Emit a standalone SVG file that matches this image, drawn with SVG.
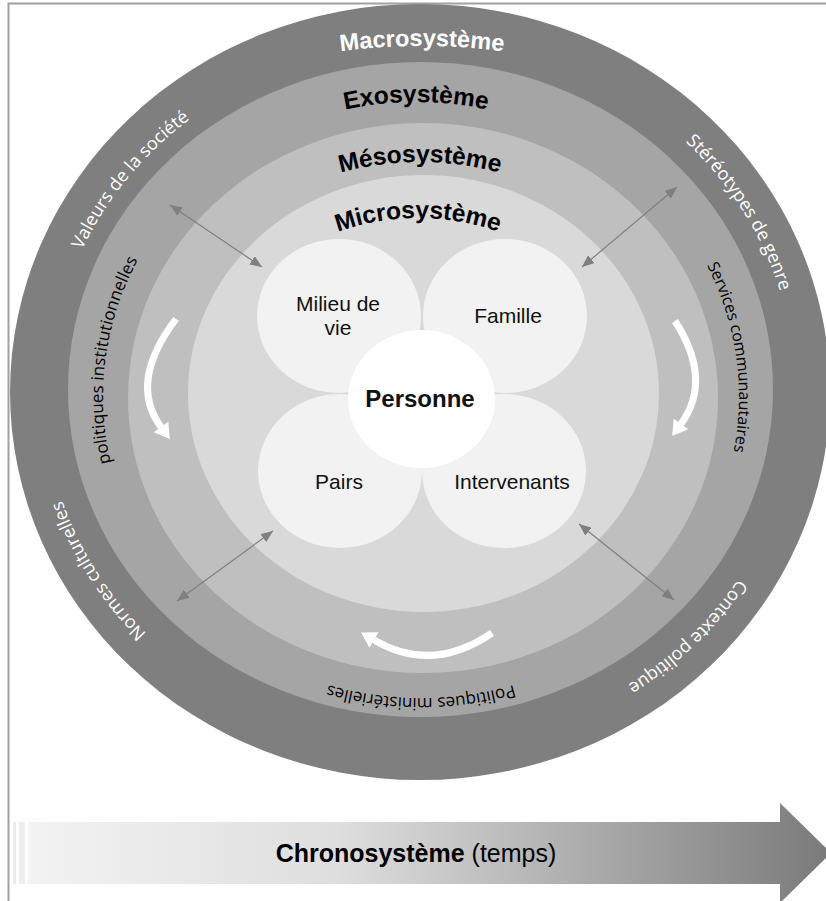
<svg xmlns="http://www.w3.org/2000/svg" width="826" height="901" viewBox="0 0 826 901">
<style>
.ring-label{font-family:"Liberation Sans",Arial,sans-serif;font-weight:bold;font-size:24.5px}
.side-w{font-family:"Open Sans","DejaVu Sans",sans-serif;font-size:18px;fill:#ffffff}
.side-b{font-family:"Open Sans","DejaVu Sans",sans-serif;font-size:17px;fill:#000000}
.node-t{font-family:"Liberation Sans",Arial,sans-serif;font-size:21px;fill:#111111;text-anchor:middle}
.conn{stroke:#7f7f7f;stroke-width:1.2;fill:none;marker-start:url(#ah);marker-end:url(#ah)}
.warrow{stroke:#ffffff;stroke-width:7;fill:none}
.whead{fill:#ffffff}
</style>
<defs>
<marker id="ah" viewBox="0 0 12 10" refX="12" refY="5" markerWidth="12" markerHeight="10" orient="auto-start-reverse" markerUnits="userSpaceOnUse"><path d="M0,0 L12,5 L0,10 Z" fill="#7f7f7f"/></marker>
<linearGradient id="chronoGrad" gradientUnits="userSpaceOnUse" x1="12" y1="0" x2="830" y2="0">
<stop offset="0" stop-color="#f4f4f4"/>
<stop offset="0.4" stop-color="#dedede"/>
<stop offset="1" stop-color="#7a7a7a"/>
</linearGradient>
<path id="pMacro" d="M302 58 A600 600 0 0 1 542 58"/>
<path id="pExo" d="M276 132.2 A340 340 0 0 1 556 132.2"/>
<path id="pMeso" d="M280 196.7 A300 300 0 0 1 560 196.7"/>
<path id="pMicro" d="M288 256.3 A240 240 0 0 1 548 256.3"/>
<path id="pValeurs" d="M53.6 439.3 A370 347 0 0 1 368.5 47.4"/>
<path id="pStereo" d="M517.3 50.5 A376 352.5 0 0 1 782.6 482.2"/>
<path id="pNormes" d="M322.7 731.5 A376 352.5 0 0 1 56.3 299.8"/>
<path id="pContexte" d="M796 382 A376 352.5 0 0 1 429.8 743.4"/>
<path id="pInstit" d="M208.2 620.7 A318 301 0 0 1 271.7 131.2"/>
<path id="pServices" d="M567.8 130 A318 301 0 0 1 635.8 618.9"/>
<path id="pMinist" d="M681.5 569.7 A318 301 0 0 1 160.5 569.7"/>
</defs>
<rect width="826" height="901" fill="#ffffff"/>
<path d="M8.5 901 V3.5 H826" fill="none" stroke="#a0a0a0" stroke-width="2"/>

<g id="macrosysteme"><ellipse cx="420" cy="392" rx="410" ry="388" fill="#7f7f7f"/></g>
<g id="exosysteme"><ellipse cx="420.5" cy="389.5" rx="352.5" ry="327.5" fill="#a5a5a5"/></g>
<g id="mesosysteme"><ellipse cx="423" cy="398" rx="295" ry="275" fill="#bfbfbf"/></g>
<g id="microsysteme"><ellipse cx="423.5" cy="393.5" rx="235.5" ry="218.5" fill="#d9d9d9"/></g>

<g id="labels-systemes">
<text class="ring-label" fill="#ffffff" style="font-size:23.5px"><textPath href="#pMacro" startOffset="50%" text-anchor="middle">Macrosystème</textPath></text>
<text class="ring-label" fill="#000000"><textPath href="#pExo" startOffset="50%" text-anchor="middle">Exosystème</textPath></text>
<text class="ring-label" fill="#000000"><textPath href="#pMeso" startOffset="50%" text-anchor="middle">Mésosystème</textPath></text>
<text class="ring-label" fill="#000000"><textPath href="#pMicro" startOffset="50%" text-anchor="middle">Microsystème</textPath></text>
</g>
<g id="labels-macro">
<text class="side-w"><textPath href="#pValeurs" startOffset="50%" text-anchor="middle">Valeurs de la société</textPath></text>
<text class="side-w"><textPath href="#pStereo" startOffset="50%" text-anchor="middle">Stéréotypes de genre</textPath></text>
<text class="side-w"><textPath href="#pNormes" startOffset="50%" text-anchor="middle">Normes culturelles</textPath></text>
<text class="side-w"><textPath href="#pContexte" startOffset="50%" text-anchor="middle">Contexte politique</textPath></text>
</g>
<g id="labels-exo">
<text class="side-b"><textPath href="#pInstit" startOffset="50%" text-anchor="middle">politiques institutionnelles</textPath></text>
<text class="side-b" style="font-size:16px"><textPath href="#pServices" startOffset="50%" text-anchor="middle">Services communautaires</textPath></text>
<text class="side-b"><textPath href="#pMinist" startOffset="50%" text-anchor="middle">Politiques ministérielles</textPath></text>
</g>

<g id="node-milieu"><ellipse cx="339" cy="316" rx="82" ry="77" fill="#f2f2f2"/><text class="node-t" x="338" y="311">Milieu de</text><text class="node-t" x="338" y="335">vie</text></g>
<g id="node-famille"><ellipse cx="505" cy="316" rx="82" ry="77" fill="#f2f2f2"/><text class="node-t" x="508" y="323">Famille</text></g>
<g id="node-pairs"><ellipse cx="340" cy="471" rx="82" ry="77" fill="#f2f2f2"/><text class="node-t" x="339" y="489">Pairs</text></g>
<g id="node-intervenants"><ellipse cx="504" cy="471" rx="82" ry="77" fill="#f2f2f2"/><text class="node-t" x="512" y="489">Intervenants</text></g>
<g id="node-personne"><ellipse cx="421.5" cy="399" rx="73.5" ry="69" fill="#ffffff"/><text class="node-t" x="420" y="407" style="font-weight:bold;font-size:24px">Personne</text></g>

<g id="connectors">
<line class="conn" x1="170" y1="205" x2="262" y2="267"/>
<line class="conn" x1="677" y1="187" x2="582" y2="267"/>
<line class="conn" x1="177" y1="601" x2="273" y2="531"/>
<line class="conn" x1="579" y1="524" x2="674" y2="600"/>
<path class="warrow" d="M176 319 Q128 382 161 427"/>
<polygon class="whead" points="169.9,439.1 153.7,432.3 168.3,421.7"/>
<path class="warrow" d="M675 321 Q713 380 681 424"/>
<polygon class="whead" points="672.2,436.1 688.3,429.3 673.7,418.7"/>
<path class="warrow" d="M492 633 Q432 674 374 640"/>
<polygon class="whead" points="361.1,632.4 378.6,632.2 369.4,647.8"/>
</g>

<g id="chronosysteme">
<rect x="13" y="822" width="3" height="62" fill="#ececec"/>
<rect x="19" y="822" width="6" height="62" fill="#eeeeee"/>
<path d="M28 822 H780 V803 L831 853 L780 903 V884 H28 Z" fill="url(#chronoGrad)"/>
<text x="416" y="862" style="font-family:'Liberation Sans',Arial,sans-serif;font-size:25px;fill:#000" text-anchor="middle"><tspan font-weight="bold">Chronosystème</tspan> (temps)</text>
</g>
</svg>
